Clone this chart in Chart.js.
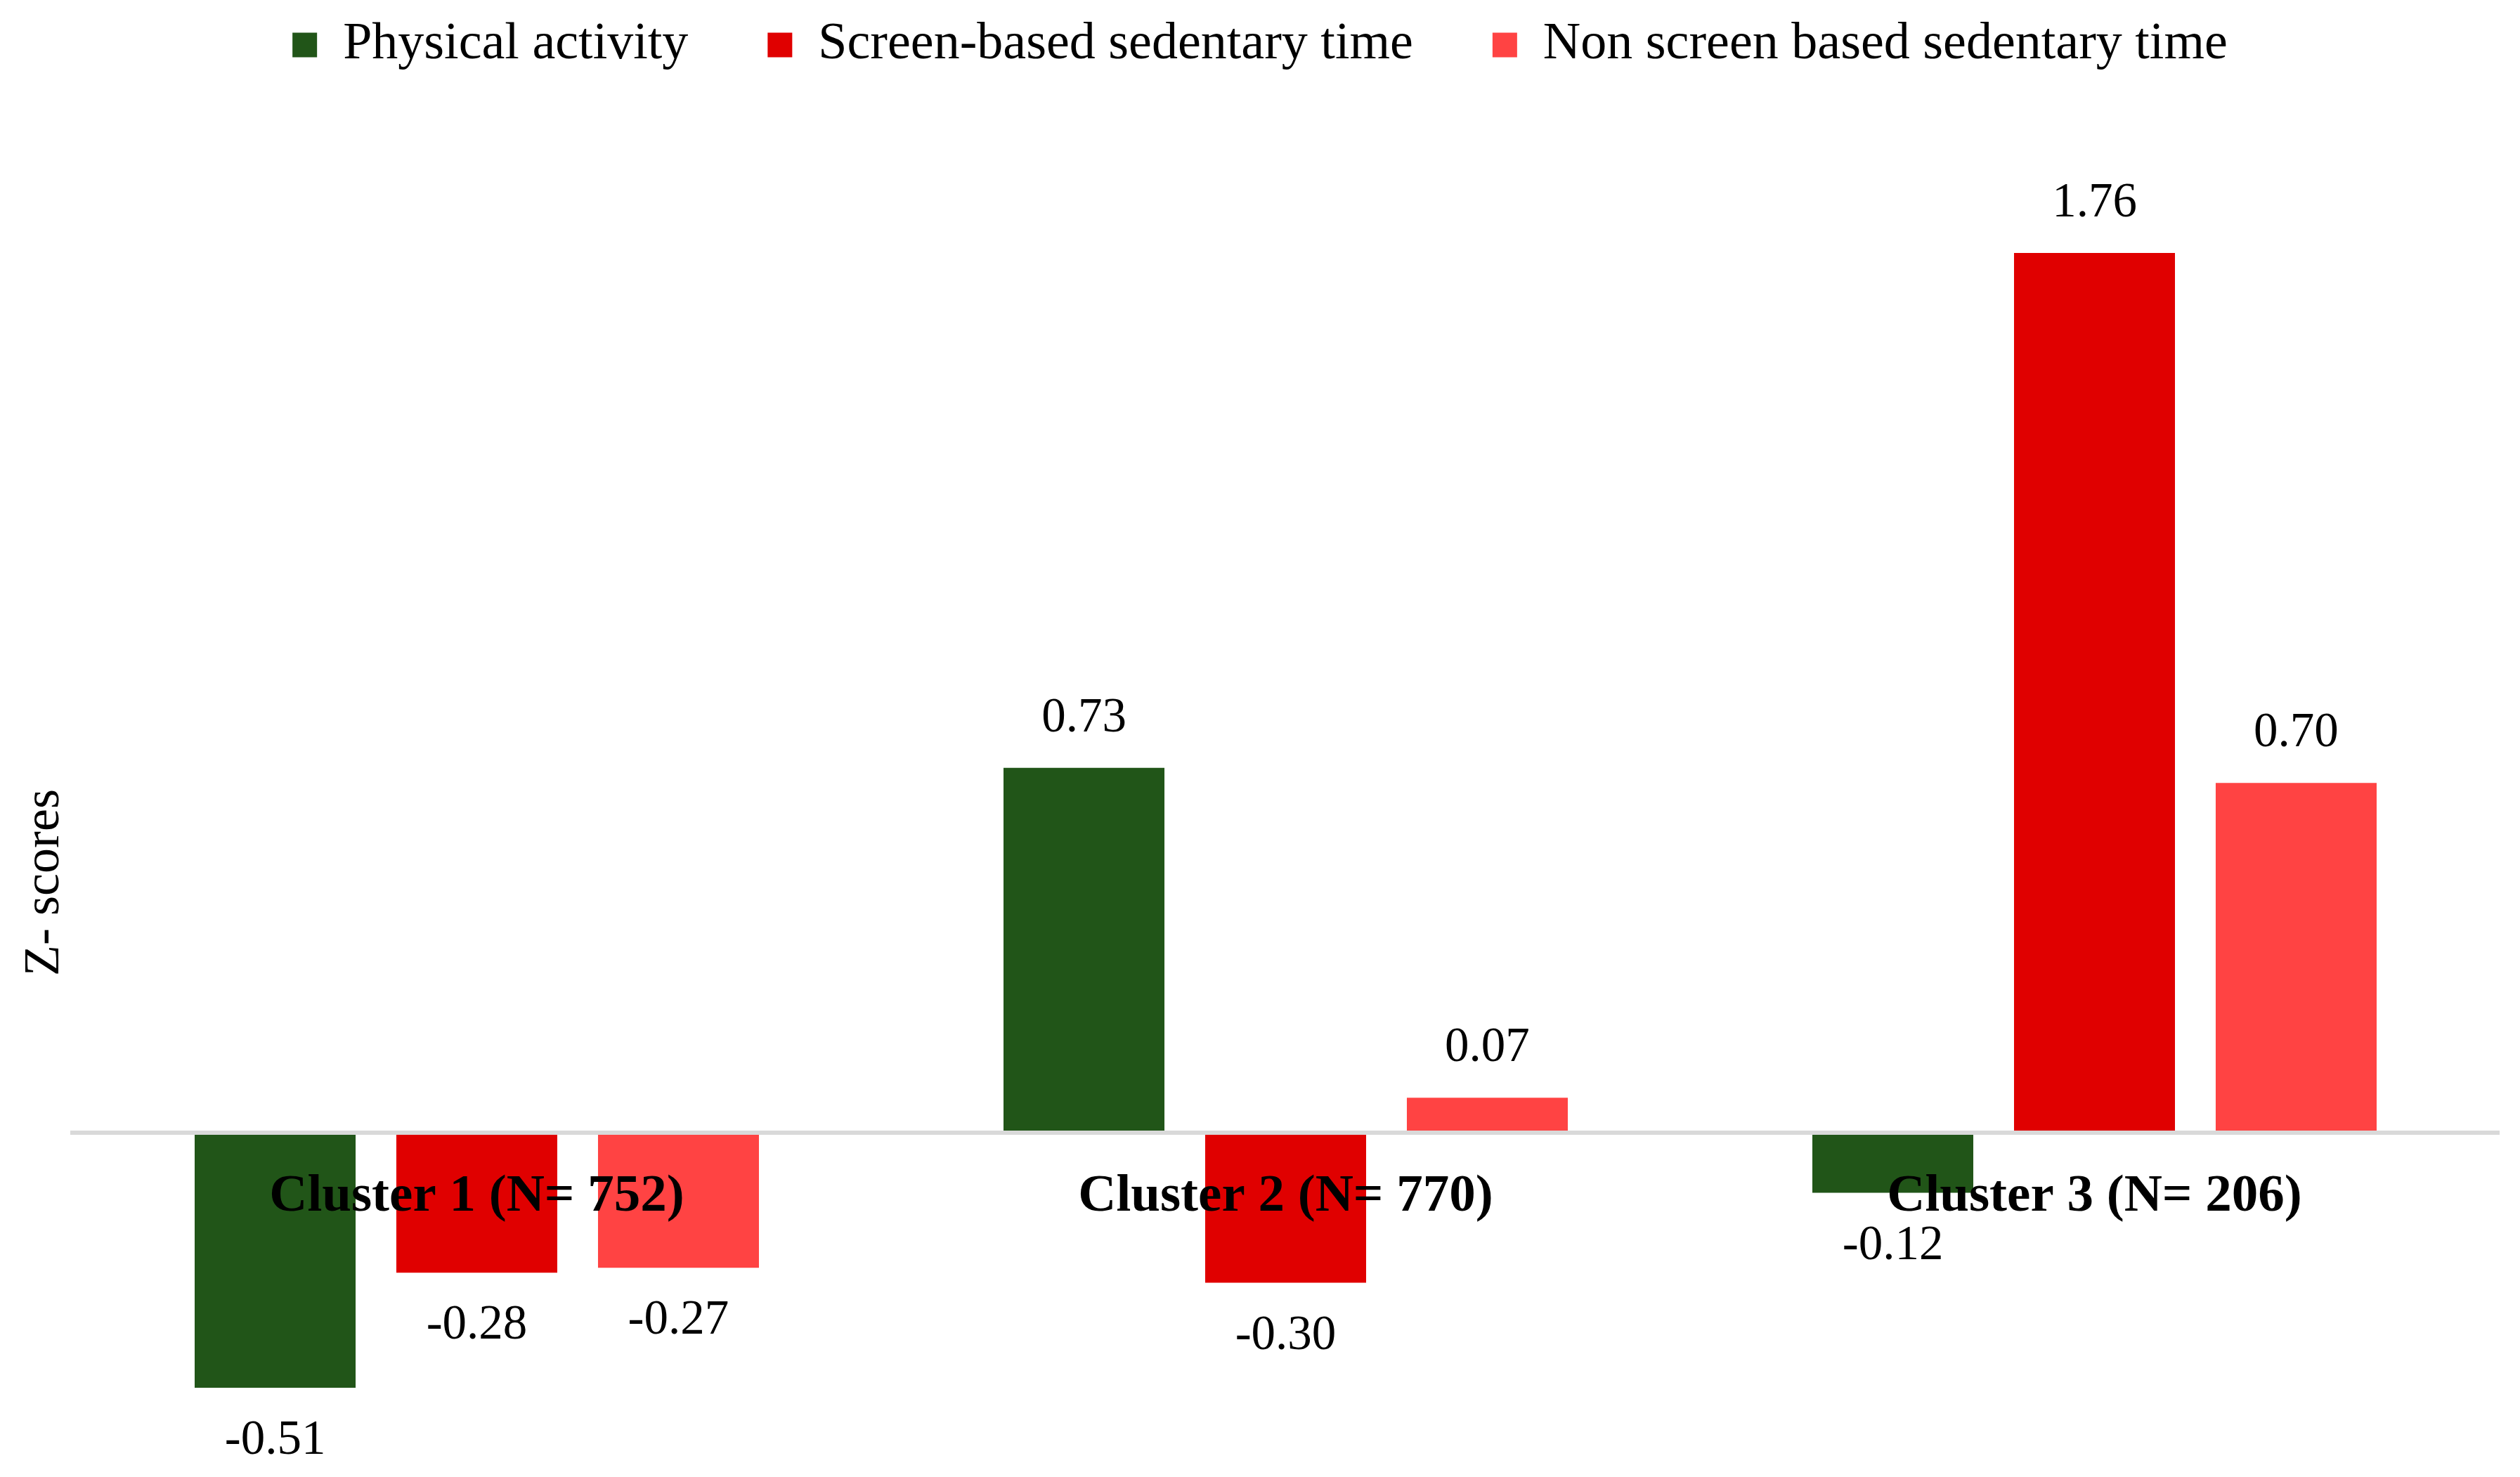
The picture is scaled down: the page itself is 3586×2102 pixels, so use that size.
<!DOCTYPE html>
<html>
<head>
<meta charset="utf-8">
<script src="https://cdn.jsdelivr.net/npm/chart.js@4.4.0/dist/chart.umd.min.js"></script>
<style>
  html, body { margin: 0; padding: 0; background: #fff; }
  #contenedor { width: 3586px; height: 2102px; }
</style>
</head>
<body>
<div id="contenedor"><canvas id="grafica"></canvas></div>
<script>
// Datos
const clusters = ['Cluster 1 (N= 752)', 'Cluster 2 (N= 770)', 'Cluster 3 (N= 206)'];
const actividadFisica = [-0.51, 0.73, -0.12];
const sedentarioPantalla = [-0.28, -0.30, 1.76];
const sedentarioSinPantalla = [-0.27, 0.07, 0.70];
const nombresSeries = ['Physical activity', 'Screen-based sedentary time', 'Non screen based sedentary time'];
const tituloY = 'Z- scores';

const coloresSeries = ['#215518', '#e00000', '#ff4343'];
const fuente = "'Liberation Serif', 'Times New Roman', serif";

Chart.defaults.font.family = fuente;
Chart.defaults.color = '#000';

// Etiquetas de valores y titulo del eje Y
const etiquetasValores = {
  id: 'etiquetasValores',
  afterDraw(chart) {
    const ctx = chart.ctx;
    ctx.save();
    ctx.font = '69px ' + fuente;
    ctx.fillStyle = '#000';
    ctx.textAlign = 'center';
    ctx.textBaseline = 'middle';
    chart.data.datasets.forEach((ds, i) => {
      chart.getDatasetMeta(i).data.forEach((barra, j) => {
        const v = ds.data[j];
        const y = v >= 0 ? barra.y - 70 : barra.y + 76;
        ctx.fillText(v.toFixed(2), barra.x, y);
      });
    });
    ctx.font = '72px ' + fuente;
    ctx.translate(64, 1256);
    ctx.rotate(-Math.PI / 2);
    ctx.fillText(tituloY, 0, 0);
    ctx.restore();
  }
};

const datasets = [actividadFisica, sedentarioPantalla, sedentarioSinPantalla].map((serie, i) => ({
  label: nombresSeries[i],
  data: serie,
  backgroundColor: coloresSeries[i],
  borderWidth: 0,
  categoryPercentage: 0.748,
  barPercentage: 0.798
}));

new Chart(document.getElementById('grafica'), {
  type: 'bar',
  data: { labels: clusters, datasets: datasets },
  options: {
    responsive: true,
    maintainAspectRatio: false,
    animation: false,
    layout: { padding: { top: -86, left: 30, right: 30, bottom: 63 } },
    scales: {
      x: {
        position: { y: 0 },
        grid: { display: false, drawTicks: false },
        border: { display: true, color: '#d9d9d9', width: 6, z: 1 },
        ticks: {
          z: 1,
          padding: 46,
          color: '#000',
          font: { size: 75, weight: 'bold', family: fuente }
        }
      },
      y: {
        display: true,
        min: -0.6,
        max: 2.11,
        grid: { display: false },
        border: { display: false },
        ticks: { display: false },
        afterFit(scale) { scale.width = 73; }
      }
    },
    plugins: {
      legend: {
        position: 'top',
        labels: {
          boxWidth: 35,
          boxHeight: 35,
          padding: 113,
          color: '#000',
          font: { size: 74, family: fuente }
        }
      },
      tooltip: { enabled: false }
    }
  },
  plugins: [etiquetasValores]
});
</script>
</body>
</html>
